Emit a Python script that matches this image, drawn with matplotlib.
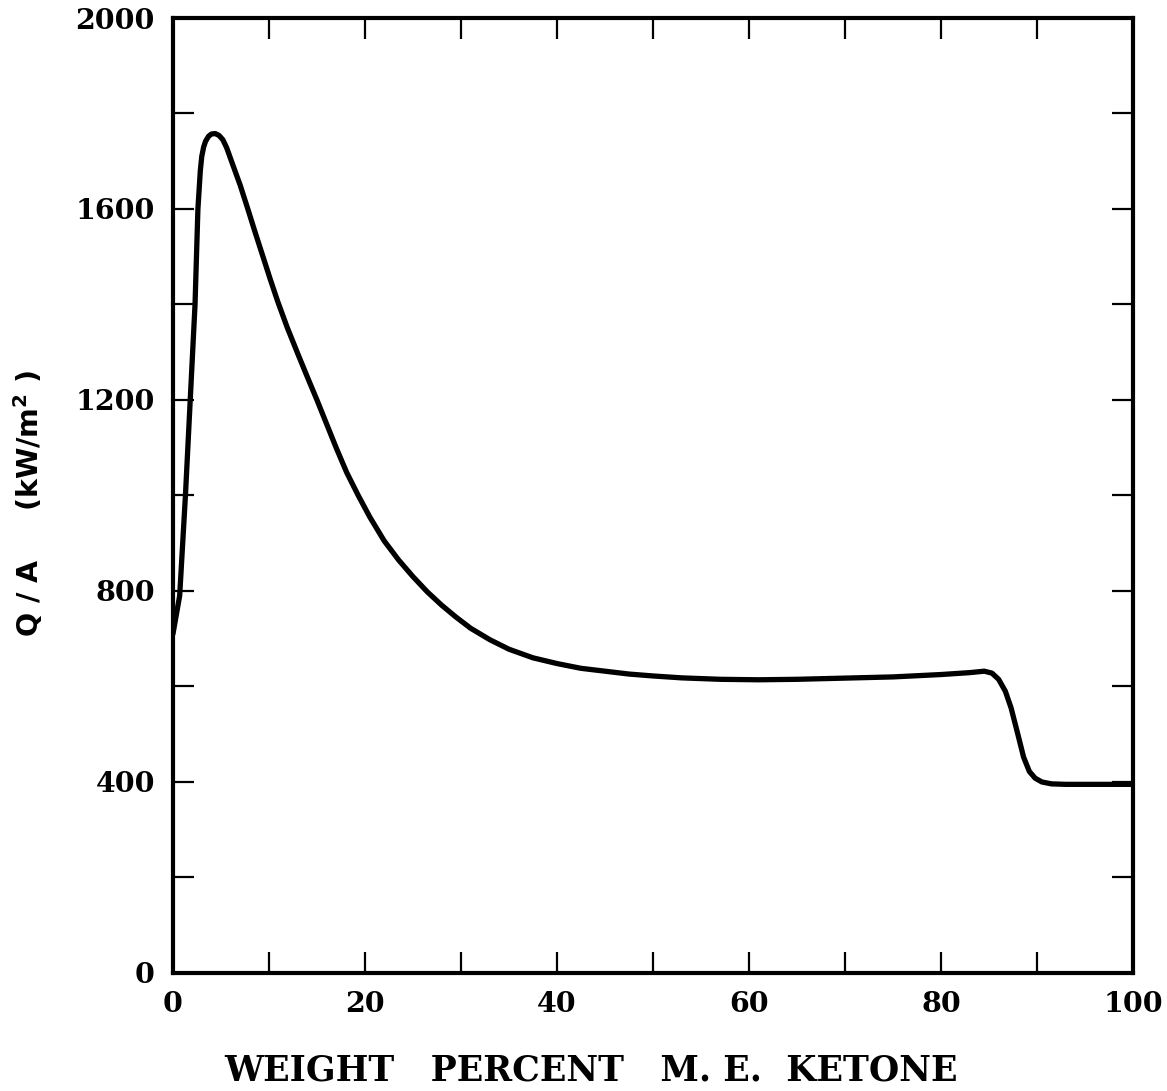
import numpy as np
import matplotlib.pyplot as plt

# Q/A vs weight percent M.E. ketone
wt_pct = [0, 0.7, 1.3, 1.8, 2.3, 2.6, 2.85, 3.0, 3.2, 3.4, 3.7, 4.0, 4.4, 4.8, 5.2,
          5.6, 6.1, 7.0, 7.8, 8.5, 9.3, 10.1, 10.9, 11.9, 13.0, 14.0, 15.0, 16.0,
          17.0, 18.1, 19.3, 20.5, 22, 23.5, 25, 26.5, 28, 29.5, 31, 33, 35, 37.5,
          40, 42.5, 45, 47.5, 50, 53, 57, 61, 65, 75, 80, 83, 84.5, 85.3, 86.0,
          86.7, 87.3, 88.0, 88.6, 89.2, 89.8, 90.5, 91.5, 93, 100]
q_flux = [710, 790, 1000, 1200, 1400, 1600, 1680, 1710, 1730, 1742, 1752, 1757,
          1758, 1754, 1745, 1728, 1700, 1650, 1600, 1555, 1505, 1455, 1407, 1352,
          1297, 1248, 1200, 1150, 1100, 1048, 1000, 955, 905, 865, 830, 798, 770,
          745, 722, 698, 678, 660, 648, 638, 632, 626, 622, 618, 615, 614, 615,
          620, 625, 629, 632, 628, 615, 590, 555, 500, 452, 422, 408, 400, 396,
          395, 395]

x_ticks = np.arange(0, 101, 10)
x_labels = ["0", "", "20", "", "40", "", "60", "", "80", "", "100"]
y_ticks = np.arange(0, 2001, 200)
y_labels = ["0", "", "400", "", "800", "", "1200", "", "1600", "", "2000"]

fig = plt.figure(figsize=(11.67, 10.91), dpi=100)
ax = fig.add_axes([0.1482, 0.1082, 0.8227, 0.8753])

ax.plot(wt_pct, q_flux, color="black", linewidth=3.8, solid_capstyle="round",
        solid_joinstyle="round")

ax.set_xlim(0, 100)
ax.set_ylim(0, 2000)
ax.set_xticks(x_ticks)
ax.set_xticklabels(x_labels)
ax.set_yticks(y_ticks)
ax.set_yticklabels(y_labels)

for s in ax.spines.values():
    s.set_linewidth(3.0)

ax.tick_params(direction="in", length=15, width=1.6, top=True, right=True,
               labelsize=20.5, pad=13)
for lab in ax.get_xticklabels() + ax.get_yticklabels():
    lab.set_fontfamily("DejaVu Serif")
    lab.set_fontweight("bold")

fig.text(0.024, 0.539, "Q / A     (kW/m$^{\\mathbf{2}}$ )", rotation=90,
         ha="center", va="center", fontsize=20.5, fontweight="bold",
         family="DejaVu Sans")
fig.text(0.506, 0.019, "WEIGHT   PERCENT   M. E.  KETONE", ha="center", va="center",
         fontsize=25, fontweight="bold", family="DejaVu Serif")

fig.savefig("out.png", dpi=100)
